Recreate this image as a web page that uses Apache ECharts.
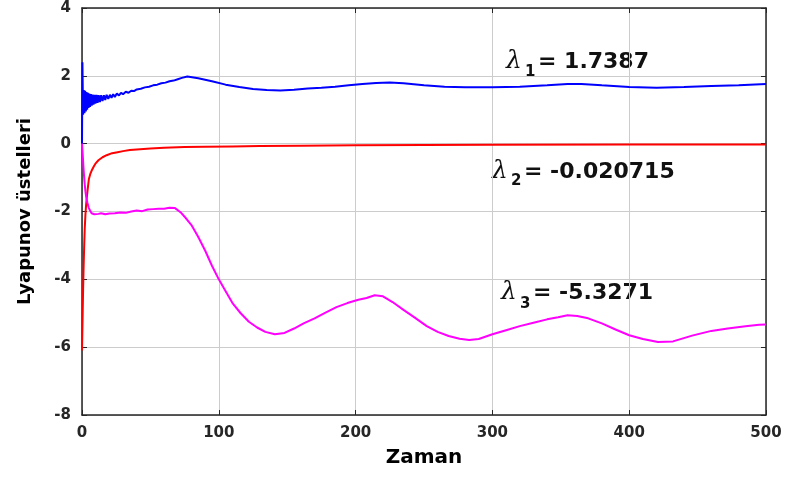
<!DOCTYPE html>
<html>
<head>
<meta charset="utf-8">
<script src="https://cdn.jsdelivr.net/npm/echarts@6/dist/echarts.min.js"></script>
<style>
  html, body { margin: 0; padding: 0; background: #fff; }
  #chart { width: 790px; height: 479px; }
</style>
</head>
<body>
<div id="chart"></div>
<script>
// lambda 1 (blue)
const xBlue = [0, 0.3, 0.8, 1.3, 1.8, 2.3, 2.8, 3.3, 3.8, 4.3, 4.8, 5.3, 5.9, 6.5, 7.1, 7.7, 8.4, 9.1, 9.8, 10.6,
  11.4, 12.2, 13.1, 14, 15, 16, 17, 18, 19.2, 20.4, 21.6, 22.8, 24, 25.5, 27, 28.5, 30, 32, 34, 36, 38, 40, 43, 46,
  49, 52, 55, 58, 61, 64, 67, 70, 73, 77, 85, 95, 105, 115, 125, 135, 145, 155, 165, 175, 185, 195, 205, 215, 225,
  235, 250, 265, 280, 300, 320, 340, 355, 365, 380, 400, 420, 440, 460, 480, 500];
const yBlue = [0, 2.4, 0.85, 1.58, 0.9, 1.56, 0.95, 1.52, 1.0, 1.5, 1.05, 1.48, 1.08, 1.46, 1.12, 1.45, 1.15, 1.44, 1.18, 1.44,
  1.2, 1.43, 1.23, 1.43, 1.26, 1.43, 1.29, 1.44, 1.32, 1.44, 1.35, 1.46, 1.38, 1.48, 1.42, 1.5, 1.46, 1.53, 1.5, 1.56, 1.55, 1.6, 1.62, 1.66,
  1.68, 1.72, 1.74, 1.78, 1.8, 1.84, 1.86, 1.9, 1.94, 1.98, 1.93, 1.84, 1.74, 1.67, 1.61, 1.58, 1.57, 1.59, 1.63, 1.65, 1.68, 1.72, 1.76, 1.79, 1.8,
  1.78, 1.72, 1.68, 1.66, 1.66, 1.68, 1.72, 1.76, 1.76, 1.72, 1.67, 1.65, 1.67, 1.7, 1.72, 1.76];

// lambda 2 (red)
const xRed = [0, 0.4, 0.8, 1.2, 1.6, 2, 2.5, 3, 4, 5, 6, 7, 8.5, 10, 12, 15, 18, 22, 26, 30, 35, 40, 50, 60, 75, 90,
  110, 130, 160, 200, 250, 300, 400, 500];
const yRed = [-6.1, -5.2, -4.3, -3.6, -3.0, -2.5, -2.1, -1.8, -1.4, -1.05, -0.9, -0.8, -0.68, -0.58, -0.49, -0.4, -0.34, -0.28, -0.25, -0.22, -0.19, -0.17, -0.14, -0.12, -0.1, -0.09,
  -0.08, -0.07, -0.06, -0.05, -0.04, -0.035, -0.027, -0.021];

// lambda 3 (magenta)
const xMag = [0, 0.5, 1, 1.5, 2, 2.5, 3, 3.5, 4, 5, 6, 7, 8, 9, 10, 12, 14, 17, 20, 24, 28, 32, 36, 40, 44, 48, 52, 56, 60, 64, 68,
  72, 76, 80, 85, 90, 95, 100, 105, 110, 116, 122, 128, 134, 141, 148, 155, 162, 170, 178, 186, 194, 202, 208, 214, 220, 227,
  235, 243, 252, 260, 268, 276, 283, 290, 300, 310, 320, 330, 340, 348, 355, 362, 370, 380, 390, 400, 410, 421, 432, 446,
  460, 472, 485, 495, 500];
const yMag = [0, -0.3, -0.65, -0.95, -1.2, -1.4, -1.55, -1.65, -1.75, -1.9, -1.98, -2.05, -2.02, -2.08, -2.03, -2.07, -2.05, -2.08, -2.06, -2.05, -2.03, -2.04, -2.0, -1.97, -1.99, -1.94, -1.93, -1.92, -1.92, -1.89, -1.9,
  -2.02, -2.2, -2.4, -2.75, -3.15, -3.6, -4.0, -4.35, -4.7, -5.0, -5.25, -5.42, -5.55, -5.62, -5.58, -5.45, -5.3, -5.15, -4.98, -4.82, -4.7, -4.6, -4.55, -4.47, -4.5, -4.67,
  -4.9, -5.12, -5.38, -5.55, -5.67, -5.75, -5.79, -5.76, -5.62, -5.5, -5.38, -5.28, -5.18, -5.12, -5.06, -5.08, -5.15, -5.3, -5.48, -5.65, -5.76, -5.85, -5.83, -5.66,
  -5.52, -5.45, -5.38, -5.34, -5.33];

// annotation texts
const subs = ["1", "2", "3"];
const values = ["= 1.7387", "= -0.020715", "= -5.3271"];

const pairs = (xs, ys) => xs.map((x, i) => [x, ys[i]]);

const axisColor = "#262626";
const tickFont = { color: axisColor, fontSize: 15, fontWeight: "bold", fontFamily: "DejaVu Sans" };

const chart = echarts.init(document.getElementById("chart"), null, { renderer: "canvas" });

// λ label: glyph + subscript + value
function lambdaLabel(x, y, sub, text, subDy) {
  return [
    { type: "text", x: x, y: y - 1, style: { text: "λ", font: "italic 25px 'DejaVu Serif'", fill: "#111", verticalAlign: "middle" } },
    { type: "text", x: x + 19, y: y + subDy, style: { text: sub, font: "bold 15px 'DejaVu Sans'", fill: "#111", verticalAlign: "middle" } },
    { type: "text", x: x + 32, y: y, style: { text: text, font: "bold 22px 'DejaVu Sans'", fill: "#111", verticalAlign: "middle" } }
  ];
}

const option = {
  animation: false,
  backgroundColor: "#fff",
  grid: { left: 82, right: 24, top: 8, bottom: 64 },
  xAxis: [
    {
      type: "value",
      min: 0,
      max: 500,
      interval: 100,
      name: "Zaman",
      nameLocation: "middle",
      nameGap: 33,
      nameTextStyle: { color: "#000", fontSize: 20, fontWeight: "bold", fontFamily: "DejaVu Sans" },
      axisLine: { onZero: false, lineStyle: { color: axisColor, width: 1.5 } },
      axisTick: { inside: true, length: 5, lineStyle: { color: axisColor } },
      axisLabel: Object.assign({ margin: 11 }, tickFont),
      splitLine: { show: true, lineStyle: { color: "#cccccc", width: 1 } }
    },
    {
      type: "value",
      position: "top",
      min: 0,
      max: 500,
      interval: 100,
      axisLine: { onZero: false, lineStyle: { color: axisColor, width: 1.5 } },
      axisTick: { inside: true, length: 5, lineStyle: { color: axisColor } },
      axisLabel: { show: false },
      splitLine: { show: false }
    }
  ],
  yAxis: [
    {
      type: "value",
      min: -8,
      max: 4,
      interval: 2,
      name: "Lyapunov üstelleri",
      nameLocation: "middle",
      nameGap: 48,
      nameTextStyle: { color: "#000", fontSize: 18, fontWeight: "bold", fontFamily: "DejaVu Sans" },
      axisLine: { show: true, onZero: false, lineStyle: { color: axisColor, width: 1.5 } },
      axisTick: { show: true, inside: true, length: 5, lineStyle: { color: axisColor } },
      axisLabel: Object.assign({ margin: 11 }, tickFont),
      splitLine: { show: true, lineStyle: { color: "#cccccc", width: 1 } }
    },
    {
      type: "value",
      position: "right",
      min: -8,
      max: 4,
      interval: 2,
      axisLine: { show: true, onZero: false, lineStyle: { color: axisColor, width: 1.5 } },
      axisTick: { show: true, inside: true, length: 5, lineStyle: { color: axisColor } },
      axisLabel: { show: false },
      splitLine: { show: false }
    }
  ],
  series: [
    { name: "λ1", type: "line", data: pairs(xBlue, yBlue), showSymbol: false, lineStyle: { color: "#0000ff", width: 2 }, itemStyle: { color: "#0000ff" } },
    { name: "λ2", type: "line", data: pairs(xRed, yRed), showSymbol: false, lineStyle: { color: "#ff0000", width: 2 }, itemStyle: { color: "#ff0000" } },
    { name: "λ3", type: "line", data: pairs(xMag, yMag), showSymbol: false, lineStyle: { color: "#ff00ff", width: 2 }, itemStyle: { color: "#ff00ff" } }
  ],
  graphic: [].concat(
    lambdaLabel(506, 62, subs[0], values[0], 10),
    lambdaLabel(492, 172, subs[1], values[1], 9),
    lambdaLabel(501, 293, subs[2], values[2], 11)
  )
};

chart.setOption(option);
</script>
</body>
</html>
